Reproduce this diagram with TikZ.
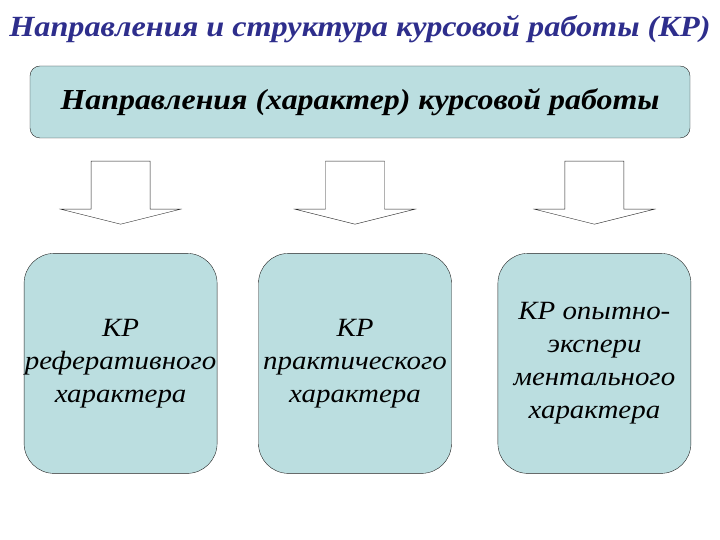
\documentclass[tikz,border=0pt]{standalone}
\usepackage{fontspec}
\setmainfont[FakeStretch=1.1]{Liberation Serif}
\usepackage{tikz}
\usetikzlibrary{positioning}
\definecolor{titleblue}{HTML}{2E2E8C}
\definecolor{boxfill}{HTML}{BBDEE0}
\definecolor{edge}{HTML}{222222}

\begin{document}
\begin{tikzpicture}[
  x=1pt,y=1pt,
  headbox/.style={draw=edge,fill=boxfill,rounded corners=10pt,minimum width=660pt,minimum height=72pt,align=center,
    font=\fontsize{29}{32}\selectfont\bfseries\itshape},
  kindbox/.style={draw=edge,fill=boxfill,rounded corners=30pt,minimum width=193pt,minimum height=220pt,align=center,
    inner xsep=0pt,font=\fontsize{26.3}{33}\selectfont\itshape},
  bigarrow/.pic={\draw[edge,fill=white,line join=miter] (0,0) -- (-60,15) -- (-29.5,15) -- (-29.5,63)
      -- (29.5,63) -- (29.5,15) -- (60,15) -- cycle;},
]
\useasboundingbox (0,0) rectangle (720,540);
\node[text=titleblue,anchor=base,font=\fontsize{29.3}{32}\selectfont\bfseries\itshape] (title) at (360,503)
  {Направления и структура курсовой работы (КР)};
\node[headbox] (head) at (360,438) {Направления (характер) курсовой работы};

\node[kindbox, below=115pt of head, xshift=-5pt] (practical) {КР\\практического\\характера};
\node[kindbox, left=41pt of practical] (essay) {КР\\реферативного\\характера};
\node[kindbox, right=46pt of practical] (experiment) {КР опытно-\\экспери\\ментального\\характера};

% arrows
\foreach \b in {essay,practical,experiment}
  \path ([yshift=29pt]\b.north) pic {bigarrow};
\end{tikzpicture}
\end{document}
